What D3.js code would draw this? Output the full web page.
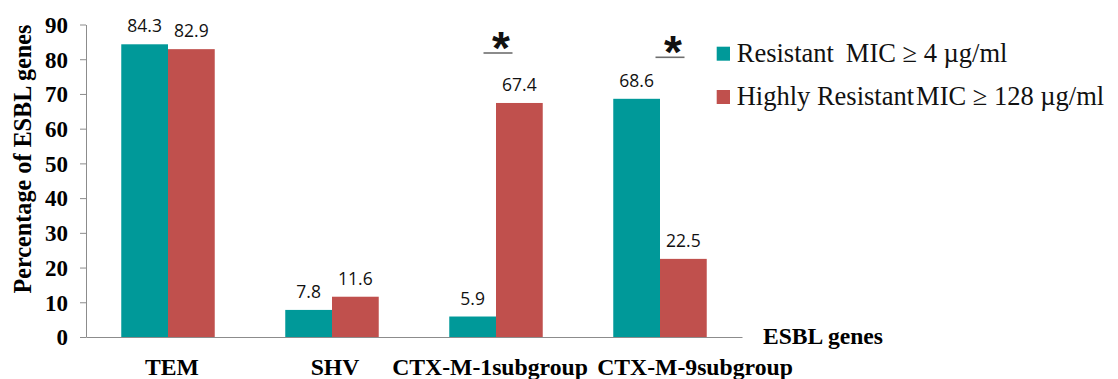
<!DOCTYPE html>
<html>
<head>
<meta charset="utf-8">
<script src="https://cdn.jsdelivr.net/npm/d3@7"></script>
<style>
  html, body { margin: 0; padding: 0; background: #fff; }
  svg { display: block; }
</style>
</head>
<body>
<svg id="chart" width="1118" height="379"></svg>
<script>
// ESBL gene prevalence by resistance level
const categories = ["TEM", "SHV", "CTX-M-1subgroup", "CTX-M-9subgroup"];
const seriesNames = ["Resistant", "Highly Resistant"];
const seriesMIC = ["MIC \u2265 4 \u00b5g/ml", "MIC \u2265 128 \u00b5g/ml"];
const resistantValues = [84.3, 7.8, 5.9, 68.6];
const highlyResistantValues = [82.9, 11.6, 67.4, 22.5];
const yTicks = [0, 10, 20, 30, 40, 50, 60, 70, 80, 90];
const significant = ["CTX-M-1subgroup", "CTX-M-9subgroup"];

const colors = ["#009999", "#C0504D"];
const serif = "'Liberation Serif', 'Times New Roman', serif";
const svg = d3.select("#chart");

const x = d3.scaleBand()
  .domain(categories)
  .range([86, 742])
  .paddingInner(0.43)
  .paddingOuter(0.215);

const xSub = d3.scaleBand()
  .domain(seriesNames)
  .range([0, x.bandwidth()]);

const y = d3.scaleLinear().domain([0, 90]).range([337, 24.5]);

const rows = categories.map((c, i) => ({
  cat: c,
  vals: [resistantValues[i], highlyResistantValues[i]]
}));

// Bars
const groups = svg.append("g").selectAll("g")
  .data(rows)
  .join("g")
  .attr("transform", d => `translate(${x(d.cat)},0)`);

groups.selectAll("rect")
  .data(d => d.vals.map((v, k) => ({ v, k })))
  .join("rect")
  .attr("x", d => xSub(seriesNames[d.k]))
  .attr("width", xSub.bandwidth())
  .attr("y", d => y(d.v))
  .attr("height", d => y(0) - y(d.v))
  .attr("fill", d => colors[d.k]);

// Value labels
groups.selectAll("text.val")
  .data(d => d.vals.map((v, k) => ({ v, k })))
  .join("text")
  .attr("class", "val")
  .attr("x", d => xSub(seriesNames[d.k]) + xSub.bandwidth() / 2)
  .attr("y", d => y(d.v) - 12)
  .attr("text-anchor", "middle")
  .attr("font-family", "'Open Sans', sans-serif")
  .attr("font-size", 17.5)
  .attr("fill", "#111")
  .text(d => d.v.toFixed(1));

// Y axis
const yAxis = svg.append("g")
  .attr("transform", "translate(86,0)")
  .call(d3.axisLeft(y).tickValues(yTicks).tickSize(6).tickSizeOuter(0).tickPadding(12));
yAxis.select(".domain").attr("stroke", "#8c8c8c");
yAxis.selectAll(".tick line").attr("stroke", "#8c8c8c");
yAxis.selectAll(".tick text")
  .attr("font-family", serif)
  .attr("font-weight", "bold")
  .attr("font-size", 23)
  .attr("fill", "#000")
  .attr("dy", "0.34em");

// X axis line
const xAxis = svg.append("g")
  .attr("transform", `translate(0,${y(0)})`)
  .call(d3.axisBottom(x).tickSize(0).tickSizeOuter(0).tickFormat(""));
xAxis.select(".domain").attr("stroke", "#8c8c8c");

// Category labels
const labelShift = [4, 3, -6, 35];
svg.append("g").selectAll("text")
  .data(categories)
  .join("text")
  .attr("x", (d, i) => x(d) + x.bandwidth() / 2 + labelShift[i])
  .attr("y", 375)
  .attr("text-anchor", "middle")
  .attr("font-family", serif)
  .attr("font-weight", "bold")
  .attr("font-size", 23.7)
  .attr("fill", "#000")
  .text(d => d);

// Axis titles
svg.append("text")
  .attr("transform", "translate(31,159) rotate(-90)")
  .attr("text-anchor", "middle")
  .attr("font-family", serif)
  .attr("font-weight", "bold")
  .attr("font-size", 24.2)
  .attr("fill", "#000")
  .text("Percentage of ESBL genes");

svg.append("text")
  .attr("x", 763)
  .attr("y", 344)
  .attr("font-family", serif)
  .attr("font-weight", "bold")
  .attr("font-size", 23.6)
  .attr("fill", "#000")
  .text("ESBL genes");

// Significance markers
const sigOffset = [{ line: 2, star: 5, ly: 53 }, { line: 10, star: 13, ly: 57.3 }];
const sig = svg.append("g").selectAll("g")
  .data(significant)
  .join("g");
sig.append("line")
  .attr("x1", (d, i) => x(d) + x.bandwidth() / 2 + sigOffset[i].line - 14.5)
  .attr("x2", (d, i) => x(d) + x.bandwidth() / 2 + sigOffset[i].line + 14.5)
  .attr("y1", (d, i) => sigOffset[i].ly)
  .attr("y2", (d, i) => sigOffset[i].ly)
  .attr("stroke", "#6e6e6e")
  .attr("stroke-width", 1.6);
sig.append("text")
  .attr("x", (d, i) => x(d) + x.bandwidth() / 2 + sigOffset[i].star)
  .attr("y", (d, i) => sigOffset[i].ly + 11)
  .attr("text-anchor", "middle")
  .attr("font-family", "'Liberation Sans', Arial, sans-serif")
  .attr("font-weight", "bold")
  .attr("font-size", 46)
  .attr("fill", "#111")
  .text("*");

// Legend
const legend = svg.append("g").selectAll("g")
  .data(seriesNames)
  .join("g")
  .attr("transform", (d, i) => `translate(716.7,${46.7 + i * 43.3})`);
legend.append("rect")
  .attr("width", 13.3)
  .attr("height", 14)
  .attr("fill", (d, i) => colors[i]);
const lt = legend.append("text")
  .attr("x", 20)
  .attr("y", 15)
  .attr("font-family", serif)
  .attr("font-size", 26.5)
  .attr("fill", "#111");
lt.append("tspan").text(d => d);
lt.append("tspan")
  .attr("dx", (d, i) => i === 0 ? 12 : 2)
  .text((d, i) => seriesMIC[i]);
</script>
</body>
</html>
